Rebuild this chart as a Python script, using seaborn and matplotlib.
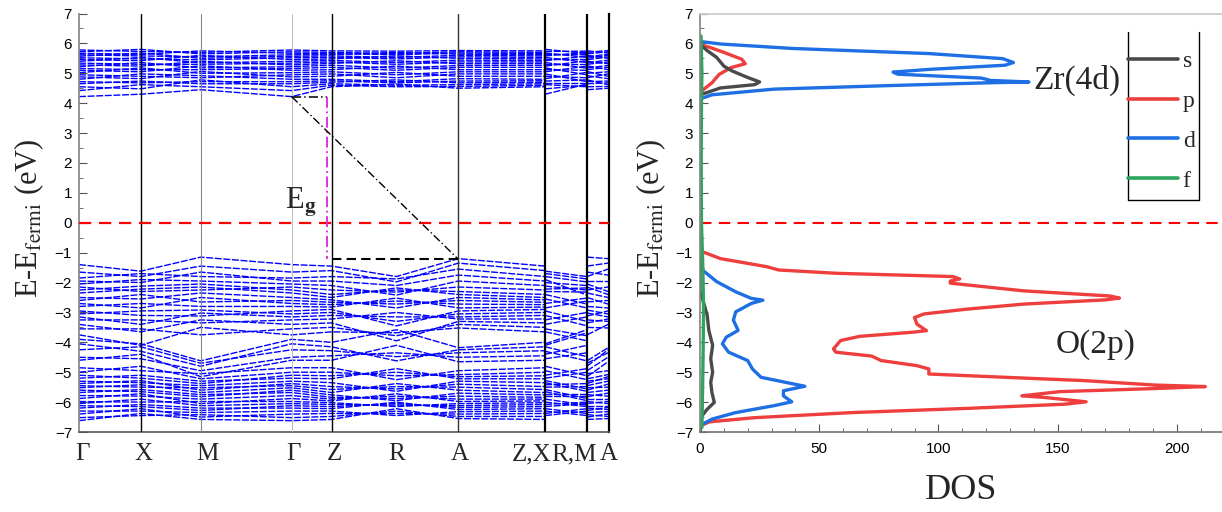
import numpy as np
import pandas as pd
import matplotlib
matplotlib.use("Agg")
import matplotlib.pyplot as plt
import seaborn as sns
from matplotlib.lines import Line2D

# ------------------------------------------------------------------ data
# high-symmetry k positions along the plotted path
k_G1, k_X, k_M, k_G2, k_Z, k_R, k_A, k_ZX, k_RM, k_end = 0.0, 0.62, 1.22, 2.13, 2.53, 3.18, 3.80, 4.67, 5.09, 5.30
path_main = ["G", "X", "M", "G", "Z", "R", "A", "Z"]
path_main_k = [k_G1, k_X, k_M, k_G2, k_Z, k_R, k_A, k_ZX]
path_xr = ["X", "R"]
path_xr_k = [k_ZX, k_RM]
path_ma = ["M", "A"]
path_ma_k = [k_RM, k_end]

k_tick_labels = ["Γ", "X", "M", "Γ", "Z", "R", "A", "Z,X", "R,M", "A"]

# valence-band energies (eV) at each high-symmetry point (band index order)
vb_G = [-1.40,-1.65,-1.85,-1.95,-2.05,-2.15,-2.25,-2.35,-2.50,-2.60,-2.70,-2.80,-2.95,-3.05,-3.15,-3.25,-3.40,-3.55,-3.75,-3.90,
        -4.05,-4.25,-4.50,-4.60,-4.85,-5.00,-5.10,-5.20,-5.30,-5.38,-5.45,-5.52,-5.60,-5.68,-5.78,-5.88,-5.98,-6.05,-6.12,-6.20,
        -6.30,-6.40,-6.52,-6.62]
vb_X = [-1.62,-1.80,-1.70,-2.00,-1.90,-2.30,-2.12,-2.22,-2.55,-2.40,-2.85,-2.70,-3.10,-2.95,-3.40,-3.25,-3.65,-3.55,-4.10,-4.05,
        -4.30,-4.15,-4.55,-4.40,-4.95,-4.80,-5.20,-5.10,-5.35,-5.28,-5.50,-5.42,-5.65,-5.58,-5.80,-5.72,-6.00,-5.90,-6.15,-6.08,
        -6.30,-6.22,-6.45,-6.38]
vb_M = [-1.15,-1.45,-1.80,-1.65,-1.95,-2.25,-2.05,-2.15,-2.35,-2.65,-2.50,-2.80,-3.12,-2.92,-3.02,-3.35,-3.25,-3.75,-3.50,-4.62,
        -4.80,-4.70,-4.95,-5.15,-5.05,-5.22,-5.38,-5.30,-5.45,-5.60,-5.52,-5.68,-5.82,-5.75,-5.90,-6.05,-5.98,-6.12,-6.28,-6.20,
        -6.35,-6.50,-6.42,-6.58]
vb_Z = [-1.45,-1.60,-1.80,-1.95,-2.10,-2.25,-2.40,-2.50,-2.58,-2.66,-2.74,-2.82,-2.90,-3.00,-3.10,-3.22,-3.35,-3.50,-3.65,-4.00,
        -4.15,-4.28,-4.45,-4.60,-4.85,-5.00,-5.12,-5.22,-5.35,-5.48,-5.58,-5.68,-5.76,-5.84,-5.90,-5.96,-6.02,-6.08,-6.15,-6.22,
        -6.30,-6.38,-6.48,-6.58]
vb_R = [-1.80,-1.98,-1.88,-2.10,-2.42,-2.32,-2.25,-2.18,-2.85,-2.72,-2.62,-2.52,-3.45,-3.30,-3.15,-3.00,-3.95,-3.78,-3.68,-3.58,
        -4.62,-4.48,-4.35,-4.10,-5.25,-5.12,-5.00,-4.88,-5.64,-5.56,-5.48,-5.38,-5.95,-5.88,-5.80,-5.72,-6.15,-6.10,-6.05,-6.00,
        -6.45,-6.38,-6.30,-6.22]
vb_A = [-1.20,-1.35,-1.55,-1.75,-1.95,-2.15,-2.30,-2.40,-2.50,-2.60,-2.72,-2.85,-2.95,-3.05,-3.15,-3.22,-3.30,-3.40,-3.52,-4.18,
        -4.25,-4.35,-4.50,-4.65,-4.95,-5.08,-5.15,-5.22,-5.30,-5.40,-5.50,-5.60,-5.70,-5.80,-5.90,-5.98,-6.05,-6.12,-6.18,-6.25,
        -6.32,-6.40,-6.48,-6.55]

# conduction-band energies (eV)
cb_G = [4.22,4.42,4.55,4.65,4.72,4.80,4.88,4.95,5.02,5.10,5.16,5.22,5.28,5.34,5.40,5.46,5.52,5.57,5.62,5.67,5.72,5.78]
cb_X = [4.30,4.62,4.48,4.74,4.68,4.98,4.82,4.90,5.18,5.05,5.12,5.36,5.24,5.30,5.53,5.42,5.48,5.68,5.58,5.63,5.80,5.73]
cb_M = [4.45,4.55,4.78,4.65,4.72,4.92,5.06,4.85,5.00,5.25,5.12,5.18,5.40,5.30,5.35,5.60,5.45,5.50,5.55,5.75,5.65,5.70]
cb_Z = [4.55,4.60,4.65,4.70,4.75,4.80,4.90,4.98,5.05,5.12,5.20,5.27,5.33,5.38,5.43,5.48,5.53,5.58,5.62,5.66,5.70,5.75]
cb_R = [4.64,4.55,4.60,4.78,4.68,4.72,5.03,4.85,4.95,5.24,5.10,5.17,5.42,5.30,5.36,5.58,5.48,5.53,5.70,5.62,5.66,5.74]
cb_A = [4.50,4.56,4.62,4.68,4.74,4.82,4.90,4.98,5.05,5.12,5.20,5.26,5.32,5.38,5.44,5.50,5.55,5.60,5.64,5.68,5.72,5.76]

# band-gap markers
cbm_E = 4.22
vbm_E = -1.22

# partial DOS (energy in eV, DOS in states/eV)
s_E = [-7.0,-6.60,-6.46,-6.24,-6.01,-5.68,-5.34,-5.00,-4.55,-4.10,-3.60,-3.09,-2.53,-2.30,
       4.20,4.29,4.51,4.62,4.71,4.86,5.08,5.24,5.53,5.76,5.93,6.05]
s_D = [0,0,0.8,3,6,5,4.5,5.3,4.5,5.3,3.7,3,1,0,
       0,0.5,8.6,23,25,20,13.4,10,7,3,0.5,0]

p_E = [-7.0,-6.80,-6.66,-6.52,-6.35,-6.21,-6.07,-5.99,-5.84,-5.79,-5.65,-5.54,-5.48,-5.43,-5.28,-5.17,-5.06,-4.89,-4.78,-4.61,
       -4.46,-4.33,-4.22,-3.94,-3.80,-3.66,-3.61,-3.39,-3.17,-3.05,-2.89,-2.72,-2.58,-2.52,-2.45,-2.28,-2.02,-1.95,-1.88,-1.80,
       -1.69,-1.58,-1.47,-1.20,-0.97,-0.80,4.30,4.43,4.68,4.96,5.19,5.32,5.47,5.70,5.87,5.94,6.10]
p_D = [0,0,4,23,64,112,153,162,144,135,151,193,212,191,161,128,96,96,91,76,
       72,57,56,59,67,89.5,95,91,90,94,112,136,170,176,172,136,105,105,109,106,
       57,33,28,8.6,1,0,0,1,5,8,13,19,17.5,10,4,1,0]

d_E = [-7.0,-6.85,-6.74,-6.57,-6.35,-6.12,-5.99,-5.79,-5.62,-5.47,-5.34,-5.17,-4.89,-4.61,-4.33,-4.05,-3.83,-3.60,-3.26,-2.98,
       -2.70,-2.59,-2.53,-2.31,-1.97,-1.58,-1.45,4.10,4.17,4.28,4.47,4.59,4.68,4.71,4.76,4.84,4.97,5.04,5.13,5.27,
       5.36,5.49,5.66,5.83,5.98,6.06,6.15]
d_D = [0,0,1,5,15,31,38.5,35,35,44,36,25.6,22,20,12,9.4,11,16,14,15,
       21.5,26.4,21.5,15,7,1,0,0,1,5,31,80,120,138,122,118,83,81,96,128,
       131.5,127,96,39,8.6,0.5,0]

f_E = [-6.85,-5.0,-3.0,-1.5,0.0,2.0,4.0,5.0,6.25]
f_D = [0.8,1.2,1.5,1.2,0.6,0.5,0.6,0.8,0.4]

orbital_names = ["s", "p", "d", "f"]
orbital_colors = ["#4a4a4a", "#ef3e3e", "#1e6fe3", "#2da55e"]

# ------------------------------------------------------------------ style
sns.set_theme(style="ticks")
plt.rcParams["font.family"] = ["Liberation Sans", "DejaVu Sans"]
plt.rcParams["mathtext.fontset"] = "stix"
SERIF = ["Liberation Serif", "DejaVu Serif"]

fig = plt.figure(figsize=(12.22, 5.12), dpi=100)
ax1 = fig.add_axes([79/1222, 80/512, 530/1222, 418.5/512])
ax2 = fig.add_axes([700/1222, 80/512, 522/1222, 418.5/512])

# ------------------------------------------------------------------ band structure
vb = {"G": vb_G, "X": vb_X, "M": vb_M, "Z": vb_Z, "R": vb_R, "A": vb_A}
cb = {"G": cb_G, "X": cb_X, "M": cb_M, "Z": cb_Z, "R": cb_R, "A": cb_A}
segments = [(path_main, path_main_k), (path_xr, path_xr_k), (path_ma, path_ma_k)]
rows = []
for tag, bands in (("v", vb), ("c", cb)):
    nb = len(bands["G"])
    for si, (pts, ks) in enumerate(segments):
        for b in range(nb):
            for p, k in zip(pts, ks):
                rows.append({"k": k, "E": bands[p][b], "unit": f"{tag}{b}_{si}"})
df_bands = pd.DataFrame(rows)

sns.lineplot(data=df_bands, x="k", y="E", units="unit", estimator=None, sort=False,
             color="#0000ff", lw=1.0, legend=False, ax=ax1)
for ln in ax1.lines:
    ln.set_dashes((5, 1.2))

# vertical lines at high-symmetry points
vl = [(k_X, "black", 1.0), (k_M, "#888888", 0.8), (k_G2, "#bbbbbb", 0.7), (k_Z, "black", 1.0),
      (k_A, "#333333", 1.0), (k_ZX, "black", 1.6), (k_RM, "black", 1.6)]
for x, c, w in vl:
    ax1.axvline(x, color=c, lw=w, zorder=3)

ax1.axhline(0, color="red", lw=1.6, ls=(0, (5.5, 3.5)), zorder=4)

# band gap annotation
k_mag = 2.48
ax1.plot([k_G2, k_mag], [cbm_E, cbm_E], color="black", lw=1.1, ls=(0, (6, 2, 1, 2)), zorder=5)
ax1.plot([k_mag, k_mag], [cbm_E, vbm_E], color="#e020e0", lw=1.3, ls=(0, (6, 2, 1, 2)), zorder=5)
ax1.plot([k_G2, k_A], [cbm_E, vbm_E], color="black", lw=1.0, ls=(0, (6, 2, 1, 2)), zorder=5)
ax1.plot([k_Z, k_A], [vbm_E, vbm_E], color="black", lw=1.5, ls=(0, (4.5, 2.5)), zorder=5)
ax1.text(2.06, 0.5, r"E$_{\mathbf{g}}$", fontsize=22, family=SERIF, va="baseline", ha="left")

ax1.set_xlim(k_G1, k_end)
ax1.set_ylim(-7, 7)
ax1.set_yticks(np.arange(-7, 8, 1))
ax1.set_yticks(np.arange(-6.5, 7, 1), minor=True)
ax1.set_xticks([0.03, 0.65, 1.29, 2.15, 2.56, 3.18, 3.81, 4.53, 4.96, 5.31])
ax1.set_xticklabels(k_tick_labels, family=SERIF, fontsize=18)
ax1.tick_params(axis="x", length=0, pad=8)
ax1.tick_params(axis="y", which="both", direction="in", colors="#555555", labelcolor="black",
                labelsize=11, pad=5)
ax1.tick_params(axis="y", which="major", length=6, width=0.8)
ax1.tick_params(axis="y", which="minor", length=3, width=0.6)
ax1.spines["top"].set_visible(False)
ax1.spines["left"].set_color("#888888")
ax1.spines["bottom"].set_color("#555555")
ax1.spines["bottom"].set_linewidth(1.2)
ax1.spines["right"].set_color("black")
ax1.spines["right"].set_linewidth(1.6)
ax1.set_xlabel("")
ax1.set_ylabel(r"E-E$_{\mathrm{fermi}}$ (eV)", family=SERIF, fontsize=22)
ax1.yaxis.set_label_coords(-0.062, 0.51)

# ------------------------------------------------------------------ DOS
col_of = dict(zip(orbital_names, orbital_colors))
order = [("p", p_E, p_D), ("d", d_E, d_D), ("s", s_E, s_D), ("f", f_E, f_D)]
for name, E, D in order:
    sns.lineplot(x=D, y=E, orient="y", sort=False, estimator=None, color=col_of[name],
                 lw=2.4, ax=ax2, legend=False)

ax2.axhline(0, color="red", lw=1.5, ls=(0, (5.5, 3.5)), zorder=1)

ax2.text(140, 4.75, "Zr(4d)", family=SERIF, fontsize=24, va="center", ha="left")
ax2.text(166, -4.08, "O(2p)", family=SERIF, fontsize=24, va="center", ha="center")

ax2.set_xlim(0, 219)
ax2.set_ylim(-7, 7)
ax2.set_xticks([0, 50, 100, 150, 200])
ax2.set_xticks(np.arange(10, 220, 10), minor=True)
ax2.set_yticks(np.arange(-7, 8, 1))
ax2.set_yticks(np.arange(-6.5, 7, 1), minor=True)
ax2.tick_params(which="both", direction="in", colors="#555555", labelcolor="black", labelsize=11, pad=5)
ax2.tick_params(which="major", length=6, width=0.8)
ax2.tick_params(which="minor", length=3, width=0.6)
ax2.tick_params(axis="x", pad=7)
ax2.spines["right"].set_visible(False)
ax2.spines["top"].set_color("#cccccc")
ax2.spines["left"].set_color("#888888")
ax2.spines["bottom"].set_color("#777777")
ax2.set_xlabel("DOS", family=SERIF, fontsize=26)
ax2.xaxis.set_label_coords(0.5, -0.10)
ax2.set_ylabel(r"E-E$_{\mathrm{fermi}}$ (eV)", family=SERIF, fontsize=22)
ax2.yaxis.set_label_coords(-0.062, 0.51)

handles = [Line2D([], [], color=c, lw=2.6) for c in orbital_colors]
leg = ax2.legend(handles, orbital_names, loc="upper left", bbox_to_anchor=(0.807, 0.929),
                 frameon=False, prop={"family": SERIF, "size": 17}, handlelength=2.1,
                 handletextpad=0.2, labelspacing=0.78, borderaxespad=0, borderpad=0.3)
# legend frame (left, bottom, right edges)
bx0, bx1, by0, by1 = 0.82, 0.956, 0.554, 0.956
ax2.plot([bx0, bx0, bx1, bx1], [by1, by0, by0, by1], transform=ax2.transAxes, color="black",
         lw=1.0, clip_on=False)

fig.savefig("out.png", dpi=100)
